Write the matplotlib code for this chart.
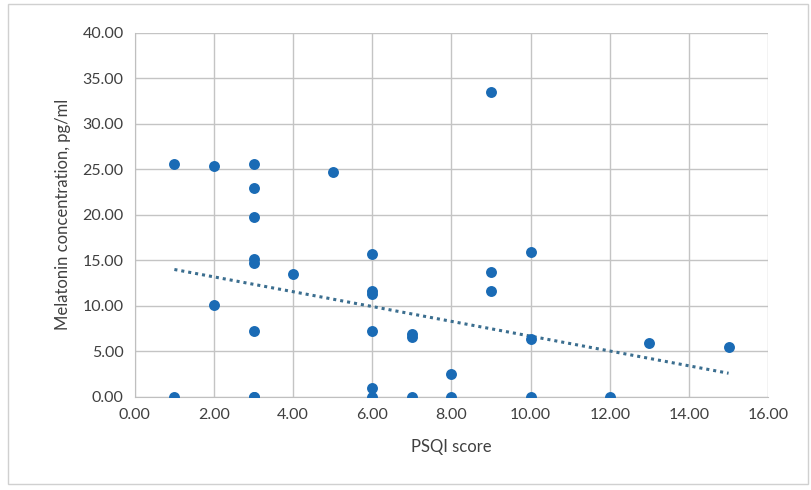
import matplotlib.pyplot as plt
import numpy as np

# PSQI score vs melatonin concentration
psqi = [1, 1, 2, 2, 3, 3, 3, 3, 3, 3, 3, 3, 4, 5,
        6, 6, 6, 6, 6, 6, 7, 7, 7, 8, 8, 9, 9, 9, 10, 10, 10, 12, 13, 15]
melatonin = [25.6, 0.0, 25.4, 10.1, 25.6, 23.0, 19.8, 15.2, 14.7, 7.2, 0.0, 0.0, 13.5, 24.7,
             15.7, 11.6, 11.3, 7.2, 1.0, 0.0, 6.9, 6.6, 0.0, 2.5, 0.0, 33.5, 13.7, 11.6,
             15.9, 6.4, 0.0, 0.0, 5.9, 5.5]

# linear trendline as drawn in the source chart
trend_x = [1, 15]
trend_y = [14.0, 2.6]

xticks = np.arange(0, 17, 2)
yticks = np.arange(0, 41, 5)

plt.rcParams['font.family'] = ['Lato', 'DejaVu Sans']

fig = plt.figure(figsize=(8.12, 4.9), dpi=100)
fig.patches.append(plt.Rectangle((0.01, 0.012), 0.985, 0.98, transform=fig.transFigure,
                                 fill=False, edgecolor='#d0d0d0', linewidth=1))
ax = fig.add_axes([0.166, 0.19, 0.78, 0.743])

ax.scatter(psqi, melatonin, s=62, color='#1a6bb5', zorder=3, linewidths=0)
ax.plot(trend_x, trend_y, linestyle=(0, (1, 1.3)), color='#3b6e8f', linewidth=2.2, zorder=2)

ax.set_xlim(0, 16)
ax.set_ylim(0, 40)
ax.set_xticks(xticks)
ax.set_yticks(yticks)
ax.set_xticklabels(['%.2f' % v for v in xticks])
ax.set_yticklabels(['%.2f' % v for v in yticks])
ax.tick_params(length=0, labelsize=11.5, colors='#404040', pad=8)
ax.grid(True, color='#c4c4c4', linewidth=1)
ax.set_axisbelow(True)
for s in ['top', 'right']:
    ax.spines[s].set_visible(False)
for s in ['left', 'bottom']:
    ax.spines[s].set_color('#bfbfbf')

ax.set_xlabel('PSQI score', fontsize=12, color='#404040', labelpad=12)
ax.set_ylabel('Melatonin concentration, pg/ml', fontsize=12, color='#404040', labelpad=8)

fig.savefig('out.png')
